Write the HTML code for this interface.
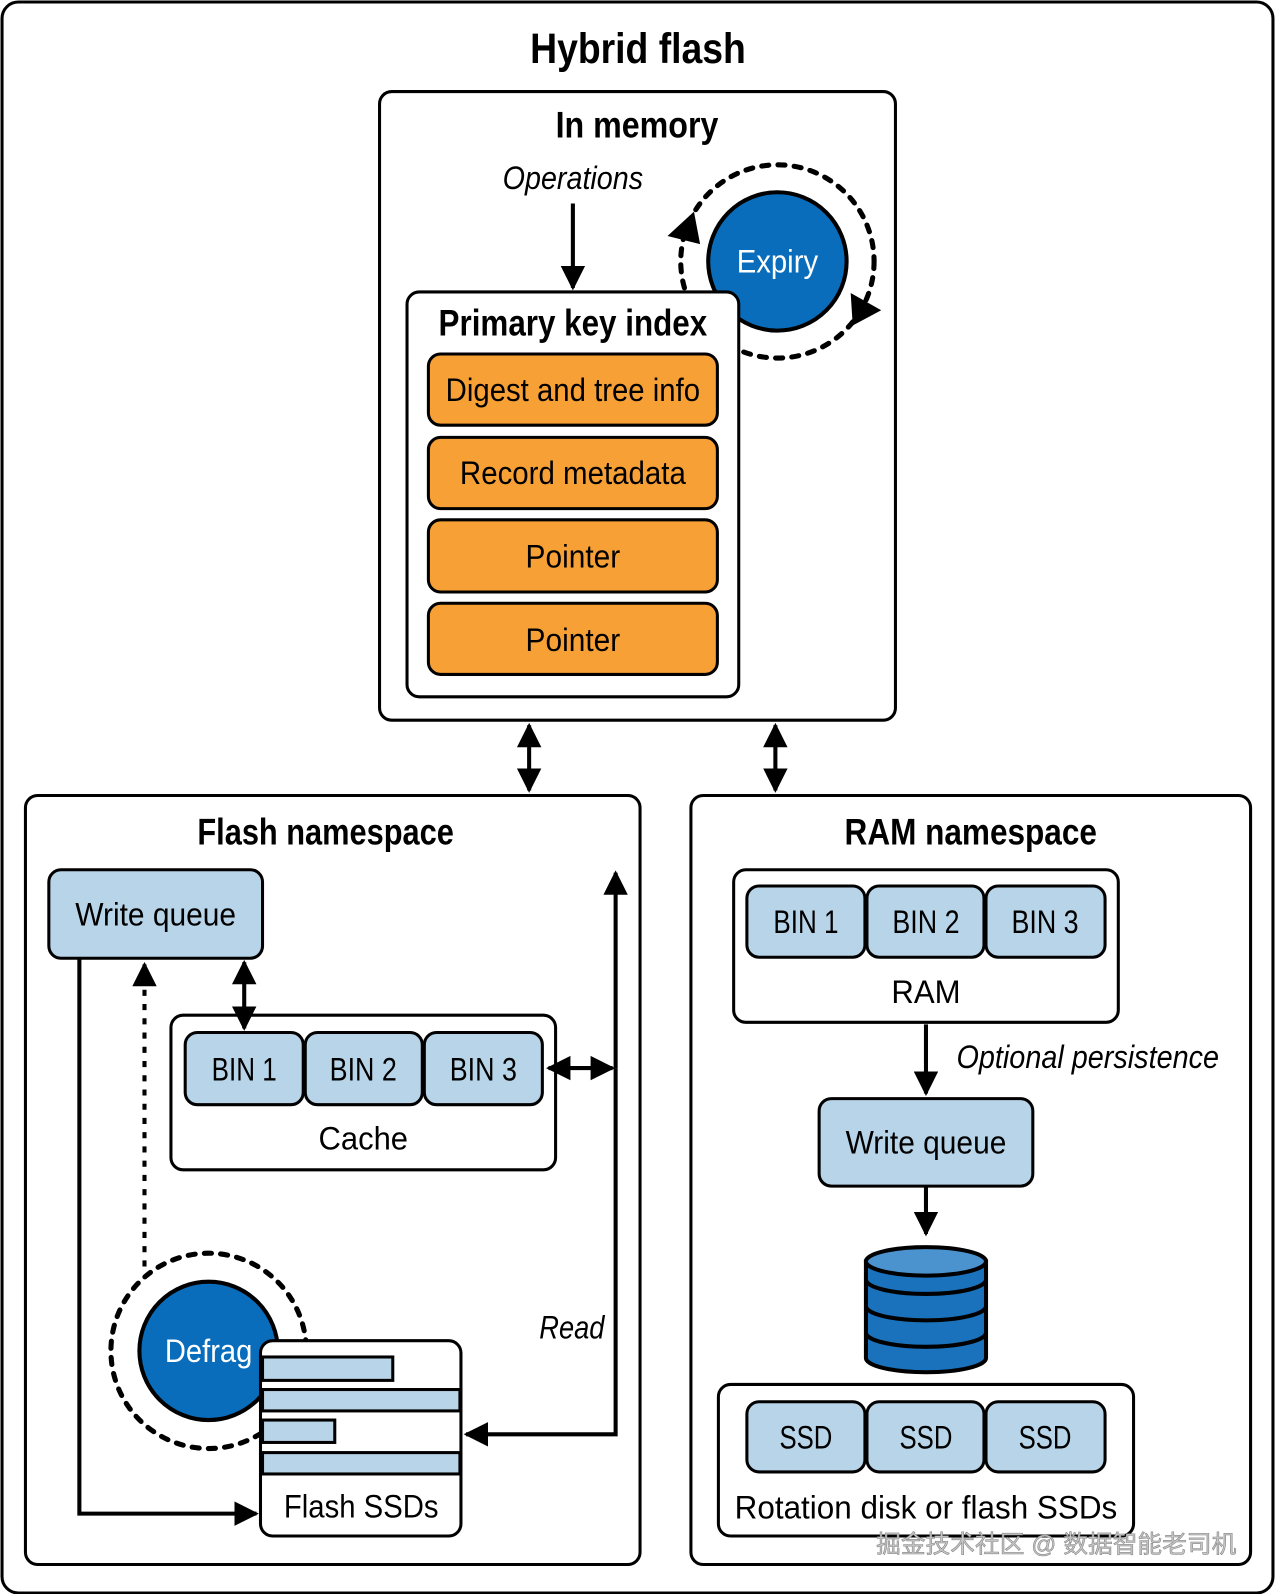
<!DOCTYPE html>
<html><head><meta charset="utf-8"><style>
html,body{margin:0;padding:0;background:#fff}
svg{display:block}
text{font-family:"Liberation Sans Narrow","Liberation Sans","DejaVu Sans Condensed",sans-serif}
</style></head><body>
<svg width="1275" height="1594" viewBox="0 0 1253 1567" preserveAspectRatio="none" xmlns="http://www.w3.org/2000/svg">
<defs>
<marker id="ah" viewBox="0 0 10 10" refX="9" refY="5" markerWidth="6" markerHeight="6" orient="auto-start-reverse" markerUnits="strokeWidth"><path d="M0,0L10,5L0,10z" fill="#000"/></marker>
</defs>
<rect x="2" y="2" width="1249" height="1564" rx="16" fill="#fff" stroke="#000" stroke-width="3"/>
<text x="627" y="62" font-size="42" font-weight="bold" text-anchor="middle" textLength="212" lengthAdjust="spacingAndGlyphs">Hybrid flash</text>

<rect x="373" y="90" width="507" height="618" rx="12" fill="#fff" stroke="#000" stroke-width="3"/>
<text x="626" y="135" font-size="36" font-weight="bold" text-anchor="middle" textLength="160" lengthAdjust="spacingAndGlyphs">In memory</text>
<text x="563" y="186" font-size="32" font-style="italic" text-anchor="middle" textLength="138" lengthAdjust="spacingAndGlyphs">Operations</text>
<line x1="563" y1="200" x2="563" y2="283" stroke="#000" stroke-width="4" marker-end="url(#ah)"/>

<circle cx="764" cy="257" r="95" fill="none" stroke="#000" stroke-width="5" stroke-dasharray="7,9" stroke-linecap="round"/>
<path d="M656,232 L682,208 L688,240 z" fill="#000"/>
<path d="M836,288 L866,305 L838,320 z" fill="#000"/>
<circle cx="764" cy="257" r="68" fill="#0a6dbb" stroke="#000" stroke-width="4"/>
<text x="764" y="268" font-size="32" fill="#fff" text-anchor="middle" textLength="80" lengthAdjust="spacingAndGlyphs">Expiry</text>

<rect x="400" y="287" width="326" height="398" rx="12" fill="#fff" stroke="#000" stroke-width="3"/>
<text x="563" y="330" font-size="36" font-weight="bold" text-anchor="middle" textLength="264" lengthAdjust="spacingAndGlyphs">Primary key index</text>
<g stroke="#000" stroke-width="3" fill="#f7a035">
<rect x="421" y="348" width="284" height="70" rx="12"/>
<rect x="421" y="430" width="284" height="70" rx="12"/>
<rect x="421" y="511" width="284" height="71" rx="12"/>
<rect x="421" y="593" width="284" height="70" rx="12"/>
</g>
<g font-size="32" text-anchor="middle">
<text x="563" y="394" textLength="250" lengthAdjust="spacingAndGlyphs">Digest and tree info</text>
<text x="563" y="476" textLength="222" lengthAdjust="spacingAndGlyphs">Record metadata</text>
<text x="563" y="558" textLength="93" lengthAdjust="spacingAndGlyphs">Pointer</text>
<text x="563" y="640" textLength="93" lengthAdjust="spacingAndGlyphs">Pointer</text>
</g>

<line x1="520" y1="713" x2="520" y2="777" stroke="#000" stroke-width="4" marker-start="url(#ah)" marker-end="url(#ah)"/>
<line x1="762" y1="713" x2="762" y2="777" stroke="#000" stroke-width="4" marker-start="url(#ah)" marker-end="url(#ah)"/>

<rect x="25" y="782" width="604" height="756" rx="12" fill="#fff" stroke="#000" stroke-width="3"/>
<text x="320" y="830" font-size="36" font-weight="bold" text-anchor="middle" textLength="252" lengthAdjust="spacingAndGlyphs">Flash namespace</text>
<rect x="48" y="855" width="210" height="87" rx="12" fill="#b8d4e9" stroke="#000" stroke-width="3"/>
<text x="153" y="910" font-size="32" text-anchor="middle" textLength="158" lengthAdjust="spacingAndGlyphs">Write queue</text>
<rect x="168" y="998" width="378" height="152" rx="12" fill="#fff" stroke="#000" stroke-width="3"/>
<g stroke="#000" stroke-width="3" fill="#b8d4e9">
<rect x="182" y="1015" width="116" height="71" rx="12"/>
<rect x="300" y="1015" width="115" height="71" rx="12"/>
<rect x="417" y="1015" width="116" height="71" rx="12"/>
</g>
<g font-size="32" text-anchor="middle">
<text x="240" y="1062" textLength="64" lengthAdjust="spacingAndGlyphs">BIN 1</text>
<text x="357" y="1062" textLength="66" lengthAdjust="spacingAndGlyphs">BIN 2</text>
<text x="475" y="1062" textLength="66" lengthAdjust="spacingAndGlyphs">BIN 3</text>
<text x="357" y="1130" textLength="88" lengthAdjust="spacingAndGlyphs">Cache</text>
</g>
<line x1="240" y1="946" x2="240" y2="1011" stroke="#000" stroke-width="4" marker-start="url(#ah)" marker-end="url(#ah)"/>
<line x1="142" y1="1245" x2="142" y2="948" stroke="#000" stroke-width="4" stroke-dasharray="6,8" marker-end="url(#ah)"/>
<polyline points="78,942 78,1488 252,1488" fill="none" stroke="#000" stroke-width="4" marker-end="url(#ah)"/>
<line x1="539" y1="1050" x2="602" y2="1050" stroke="#000" stroke-width="4" marker-start="url(#ah)" marker-end="url(#ah)"/>
<polyline points="605,1050 605,1410 458,1410" fill="none" stroke="#000" stroke-width="4" marker-end="url(#ah)"/>
<line x1="605" y1="1050" x2="605" y2="858" stroke="#000" stroke-width="4" marker-end="url(#ah)"/>
<text x="562" y="1316" font-size="32" font-style="italic" text-anchor="middle" textLength="64" lengthAdjust="spacingAndGlyphs">Read</text>

<circle cx="205" cy="1328" r="96" fill="none" stroke="#000" stroke-width="5" stroke-dasharray="7,9" stroke-linecap="round"/>
<circle cx="205" cy="1328" r="68" fill="#0a6dbb" stroke="#000" stroke-width="4"/>
<text x="205" y="1339" font-size="32" fill="#fff" text-anchor="middle" textLength="86" lengthAdjust="spacingAndGlyphs">Defrag</text>
<rect x="256" y="1318" width="197" height="192" rx="12" fill="#fff" stroke="#000" stroke-width="3"/>
<g stroke="#000" stroke-width="3" fill="#b8d4e9">
<rect x="258" y="1334" width="128" height="23"/>
<rect x="258" y="1366" width="194" height="21"/>
<rect x="258" y="1396" width="71" height="22"/>
<rect x="258" y="1428" width="194" height="21"/>
</g>
<text x="355" y="1492" font-size="32" text-anchor="middle" textLength="152" lengthAdjust="spacingAndGlyphs">Flash SSDs</text>

<rect x="679" y="782" width="550" height="756" rx="12" fill="#fff" stroke="#000" stroke-width="3"/>
<text x="954" y="830" font-size="36" font-weight="bold" text-anchor="middle" textLength="248" lengthAdjust="spacingAndGlyphs">RAM namespace</text>
<rect x="721" y="855" width="378" height="150" rx="12" fill="#fff" stroke="#000" stroke-width="3"/>
<g stroke="#000" stroke-width="3" fill="#b8d4e9">
<rect x="734" y="871" width="116" height="70" rx="12"/>
<rect x="852" y="871" width="115" height="70" rx="12"/>
<rect x="969" y="871" width="117" height="70" rx="12"/>
</g>
<g font-size="32" text-anchor="middle">
<text x="792" y="917" textLength="64" lengthAdjust="spacingAndGlyphs">BIN 1</text>
<text x="910" y="917" textLength="66" lengthAdjust="spacingAndGlyphs">BIN 2</text>
<text x="1027" y="917" textLength="66" lengthAdjust="spacingAndGlyphs">BIN 3</text>
<text x="910" y="986" textLength="68" lengthAdjust="spacingAndGlyphs">RAM</text>
</g>
<line x1="910" y1="1007" x2="910" y2="1075" stroke="#000" stroke-width="4" marker-end="url(#ah)"/>
<text x="940" y="1050" font-size="32" font-style="italic" textLength="258" lengthAdjust="spacingAndGlyphs">Optional persistence</text>
<rect x="805" y="1080" width="210" height="86" rx="12" fill="#b8d4e9" stroke="#000" stroke-width="3"/>
<text x="910" y="1134" font-size="32" text-anchor="middle" textLength="158" lengthAdjust="spacingAndGlyphs">Write queue</text>
<line x1="910" y1="1166" x2="910" y2="1213" stroke="#000" stroke-width="4" marker-end="url(#ah)"/>

<g stroke="#000" stroke-width="4">
<path d="M851,1240 L851,1335 A59,14 0 0 0 969,1335 L969,1240 z" fill="#1a72bd"/>
<path d="M851,1310 A59,14 0 0 0 969,1310" fill="none"/>
<path d="M851,1284 A59,14 0 0 0 969,1284" fill="none"/>
<path d="M851,1258 A59,14 0 0 0 969,1258" fill="none"/>
<ellipse cx="910" cy="1240" rx="59" ry="14" fill="#4a93cf"/>
</g>

<rect x="706" y="1361" width="408" height="149" rx="12" fill="none" stroke="#000" stroke-width="3"/>
<g stroke="#000" stroke-width="3" fill="#b8d4e9">
<rect x="734" y="1378" width="116" height="69" rx="12"/>
<rect x="852" y="1378" width="115" height="69" rx="12"/>
<rect x="969" y="1378" width="117" height="69" rx="12"/>
</g>
<g font-size="32" text-anchor="middle">
<text x="792" y="1424" textLength="52" lengthAdjust="spacingAndGlyphs">SSD</text>
<text x="910" y="1424" textLength="52" lengthAdjust="spacingAndGlyphs">SSD</text>
<text x="1027" y="1424" textLength="52" lengthAdjust="spacingAndGlyphs">SSD</text>
<text x="910" y="1493" textLength="376" lengthAdjust="spacingAndGlyphs">Rotation disk or flash SSDs</text>
</g>
<text x="1215" y="1526" font-size="24" fill="#c8c8c8" stroke="#888" stroke-width="0.6" text-anchor="end" style="font-family:'Liberation Sans','Noto Sans CJK SC',sans-serif" textLength="354" lengthAdjust="spacingAndGlyphs">掘金技术社区 @ 数据智能老司机</text>
</svg>
</body></html>
